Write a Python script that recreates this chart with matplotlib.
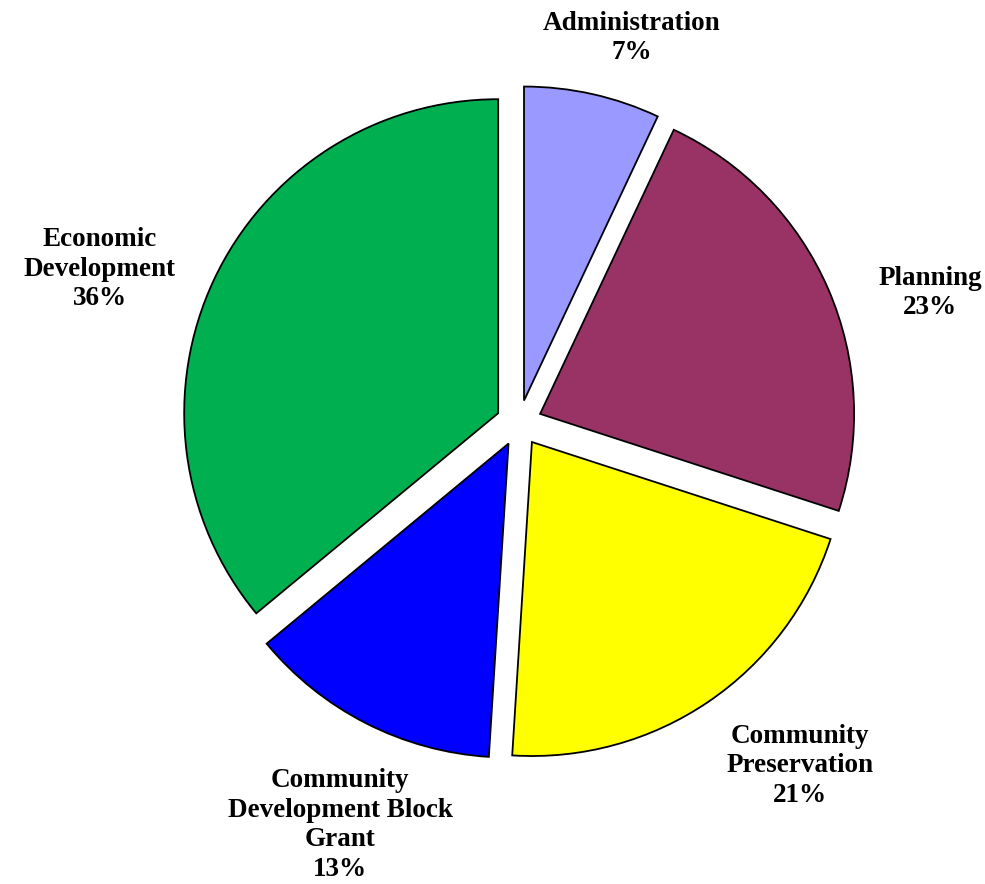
import matplotlib.pyplot as plt

# budget share by division
divisions = ["Administration", "Planning", "Community\nPreservation",
             "Community\nDevelopment Block\nGrant", "Economic\nDevelopment"]
shares = [7, 23, 21, 13, 36]
colors = ["#9999FF", "#993366", "#FFFF00", "#0000FF", "#00B050"]

# where each label block sits (pixel coords, y from bottom)
label_xy = [(632, 846), (930, 591), (800, 118), (340, 59), (100, 615)]

plt.rcParams['font.family'] = ['Liberation Serif', 'DejaVu Serif']

fig = plt.figure(figsize=(9.85, 8.84), dpi=100)
ax = fig.add_axes([0, 0, 1, 1])

wedges, _ = ax.pie(shares, colors=colors, startangle=90, counterclock=False,
                   radius=314, center=(519, 461), explode=[23] * len(shares),
                   wedgeprops=dict(edgecolor="black", linewidth=1.3))

for name, val, (x, y) in zip(divisions, shares, label_xy):
    ax.text(x, y, f"{name}\n{val}%", ha="center", va="center",
            fontsize=19.5, fontweight="bold", linespacing=1.25)

ax.set_xlim(0, 985)
ax.set_ylim(0, 884)
ax.set_aspect("equal")
ax.axis("off")

fig.savefig("out.png", dpi=100)
